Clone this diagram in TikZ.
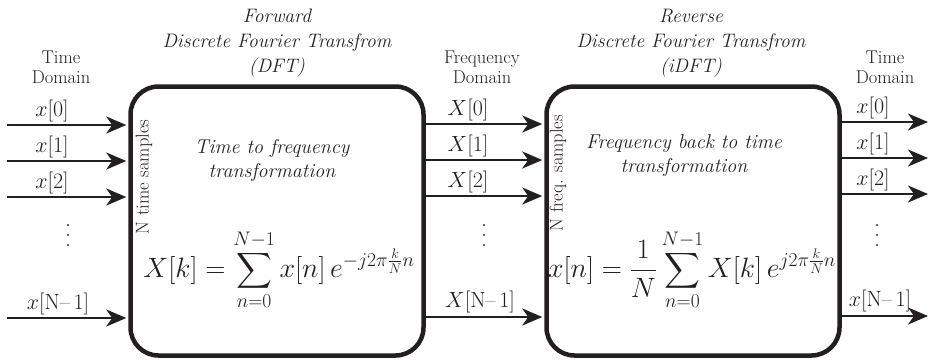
\RequirePackage{fix-cm}
\documentclass[tikz,border=0pt]{standalone}
\usepackage{amsmath}
\usetikzlibrary{arrows.meta,positioning}
\definecolor{inkBlack}{HTML}{231F20}

\begin{document}
\begin{tikzpicture}[x=1pt, y=-1pt, inkBlack,
        box/.style={draw=inkBlack, line width=4.5pt, rounded corners=28pt, minimum width=293pt, minimum height=269pt, inner sep=0pt},
        sig/.style={draw=inkBlack, line width=2.5pt, -{Stealth[length=20pt, width=17pt, inset=6pt]}, shorten >=2pt},
        domText/.style={align=center, font=\fontsize{18.5}{20}\selectfont},
        boxTitle/.style={align=center, font=\fontsize{19.5}{25}\selectfont\itshape},
        sigLabel/.style={font=\fontsize{22}{24}\selectfont, inner sep=1pt},
        vdotText/.style={align=center, font=\fontsize{24}{10}\selectfont, inner sep=0pt},
        boxText/.style={align=center, font=\fontsize{20}{24}\selectfont\itshape},
        sideText/.style={rotate=90, font=\fontsize{18.5}{20}\selectfont},
        eqText/.style={font=\fontsize{28}{30}\selectfont, inner sep=0pt}]
    \useasboundingbox (0,0) rectangle (928,360);

    \node[box] (dft) at (277,221) {};
    \node[box] (idft) at (693,221) {};

    \node[boxTitle] (dftTitle) at (277,43) {Forward\\Discrete Fourier Transfrom\\(DFT)};
    \node[boxTitle] (idftTitle) at (691,43) {Reverse\\Discrete Fourier Transfrom\\(iDFT)};

    \node[domText] (timeIn) at (61,67) {Time\\Domain};
    \node[domText] (freq) at (482,67) {Frequency\\Domain};
    \node[domText] (timeOut) at (885,67) {Time\\Domain};

    \node[boxText] (dftTxt) at (272,160) {Time to frequency\\transformation};
    \node[boxText] (idftTxt) at (684,156) {Frequency back to time\\transformation};

    \node[sideText] (dftSide) at (144,177) {N time samples};
    \node[sideText] (idftSide) at (558,173) {N freq. samples};

    \node[eqText] (dftEq) at (279,270) {$\displaystyle X[k]=\sum_{n=0}^{N-1}x[n]\,e^{-j2\pi\frac{k}{N}n}$};
    \node[eqText] (idftEq) at (692,270) {$\displaystyle x[n]=\frac{1}{N}\sum_{n=0}^{N-1}X[k]\,e^{j2\pi\frac{k}{N}n}$};

    \foreach \yy [count=\i] in {125,161,197,318}
        \coordinate (in\i) at (7,\yy);
    \foreach \yy [count=\i] in {124,160,196,317}
        \coordinate (mid\i) at (0,\yy);
    \foreach \yy [count=\i] in {122,158,194,316}
        \coordinate (out\i) at (928,\yy);

    \foreach \i in {1,2,3,4} {
        \draw[sig] (in\i) -- (in\i -| dft.west);
        \draw[sig] (mid\i -| dft.east) -- (mid\i -| idft.west);
        \draw[sig, shorten >=0pt] (out\i -| idft.east) -- (out\i);
    }

    \node[sigLabel] (x0) at (52,111) {$x$[0]};
    \node[sigLabel] (x1) at (52,147) {$x$[1]};
    \node[sigLabel] (x2) at (52,183) {$x$[2]};
    \node[vdotText] (xdots) at (68,236) {.\\.\\.};
    \node[sigLabel] (xN) at (58,304) {$x$[N--\,1]};

    \node[sigLabel] (X0) at (468,110) {$X$[0]};
    \node[sigLabel] (X1) at (468,146) {$X$[1]};
    \node[sigLabel] (X2) at (468,182) {$X$[2]};
    \node[vdotText] (Xdots) at (484,236) {.\\.\\.};
    \node[sigLabel] (XN) at (480,302) {$X$[N--\,1]};

    \node[sigLabel] (y0) at (873,108) {$x$[0]};
    \node[sigLabel] (y1) at (873,144) {$x$[1]};
    \node[sigLabel] (y2) at (873,180) {$x$[2]};
    \node[vdotText] (ydots) at (877,236) {.\\.\\.};
    \node[sigLabel] (yN) at (880,301) {$x$[N--\,1]};
\end{tikzpicture}
\end{document}
